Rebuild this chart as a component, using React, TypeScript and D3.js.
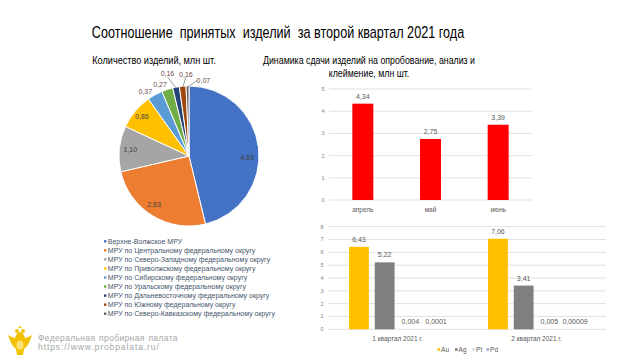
import React from "react";
import * as d3 from "d3";

// ---------- DATA ----------
const pieLabels = [
  "Верхне-Волжское МРУ",
  "МРУ по Центральному федеральному округу",
  "МРУ по Северо-Западному федеральному округу",
  "МРУ по Приволжскому федеральному округу",
  "МРУ по Сибирскому федеральному округу",
  "МРУ по Уральскому федеральному округу",
  "МРУ по Дальневосточному федеральному округу",
  "МРУ по Южному федеральному округу",
  "МРУ по Северо-Кавказскому федеральному округу",
];
const pieValues = [4.83, 2.63, 1.1, 0.86, 0.37, 0.27, 0.16, 0.16, 0.07];
const pieValueText = ["4,83", "2,63", "1,10", "0,86", "0,37", "0,27", "0,16", "0,16", "0,07"];

const months = ["апрель", "май", "июнь"];
const monthValues = [4.34, 2.75, 3.39];
const monthValueText = ["4,34", "2,75", "3,39"];
const monthTicks = [0, 1, 2, 3, 4, 5];

const quarters = ["1 квартал 2021 г.", "2 квартал 2021 г."];
const metals = ["Au", "Ag", "Pt", "Pd"];
const metalValues = [
  [6.43, 5.22, 0.004, 0.0001],
  [7.06, 3.41, 0.005, 0.00009],
];
const metalValueText = [
  ["6,43", "5,22", "0,004", "0,0001"],
  ["7,06", "3,41", "0,005", "0,00009"],
];
const metalTicks = [0, 1, 2, 3, 4, 5, 6, 7, 8];

// ---------- STYLE ----------
const pieColors = ["#4472C4", "#ED7D31", "#A5A5A5", "#FFC000", "#5B9BD5", "#70AD47", "#264478", "#9E480E", "#636363"];
const metalColors = ["#FFC000", "#7F7F7F", "#D9D9D9", "#8FAADC"];
const FONT = "'Liberation Sans', Arial, sans-serif";
const labelColor = "#595959";

export default function App() {
  // ---- Pie ----
  const cx = 189, cy = 156, R = 70;
  const pie = d3.pie<number>().sort(null).value((d) => d)(pieValues);
  const arc = d3.arc<d3.PieArcDatum<number>>().innerRadius(0).outerRadius(R);
  // label layout: [angle shift deg, radius] relative to slice mid-angle
  const labelLayout: [number, number][] = [
    [8, 58], [4, 60], [0, 59], [0, 61], [-5, 78], [-4, 77], [-4, 85], [3, 82], [12, 77],
  ];
  const leader = [false, false, false, false, false, false, true, true, true];

  const polar = (angRad: number, r: number) => [cx + r * Math.sin(angRad), cy - r * Math.cos(angRad)];

  // ---- Top bar chart ----
  const x1 = d3.scaleBand<string>().domain(months).range([329, 532]).paddingInner(0.69).paddingOuter(0.345);
  const y1 = d3.scaleLinear().domain([0, 5]).range([200, 89]);

  // ---- Bottom bar chart ----
  const x2 = d3.scaleBand<string>().domain(quarters).range([328, 606]).padding(0);
  const x2i = d3.scaleBand<string>().domain(metals).range([0, x2.bandwidth()]).paddingInner(0.23).paddingOuter(0.82);
  const y2 = d3.scaleLinear().domain([0, 8]).range([329.3, 226.7]);

  return (
    <svg width={640} height={360} style={{ position: "absolute", left: 0, top: 0, background: "#fff" }} fontFamily={FONT}>
      <rect width={640} height={360} fill="#fff" />
      {/* Title */}
      <text transform="translate(278,37.5) scale(0.79,1)" x={0} y={0} textAnchor="middle" fontSize={16} fill="#000" style={{ whiteSpace: "pre" }}>
        Соотношение  принятых  изделий  за второй квартал 2021 года
      </text>
      <text transform="translate(154,64) scale(0.87,1)" textAnchor="middle" fontSize={10.5} fill="#000">Количество изделий, млн шт.</text>
      <text transform="translate(369,64) scale(0.84,1)" textAnchor="middle" fontSize={10.5} fill="#000">Динамика сдачи изделий на опробование, анализ и</text>
      <text transform="translate(369,77) scale(0.84,1)" textAnchor="middle" fontSize={10.5} fill="#000">клеймение, млн шт.</text>

      {/* Pie */}
      <g transform={`translate(${cx},${cy})`}>
        {pie.map((p, i) => (
          <path key={i} d={arc(p) || ""} fill={pieColors[i]} stroke="#fff" strokeWidth={1} />
        ))}
      </g>
      {pie.map((p, i) => {
        const mid = (p.startAngle + p.endAngle) / 2;
        const [sh, r] = labelLayout[i];
        const [lx, ly] = polar(mid + (sh * Math.PI) / 180, r);
        const [ex, ey] = polar(mid, R - 1);
        return (
          <g key={i}>
            {leader[i] && (
              <line x1={i === 8 ? lx - 6 : lx} y1={i === 8 ? ly : ly + 3} x2={ex} y2={ey} stroke="#595959" strokeWidth={0.6} />
            )}
            <text x={lx} y={ly} dy="0.35em" textAnchor="middle" fontSize={7} fill={i < 4 ? "#404040" : "#6b4a4a"}>
              {pieValueText[i]}
            </text>
          </g>
        );
      })}

      {/* Pie legend */}
      {pieLabels.map((l, i) => (
        <g key={i} transform={`translate(104, ${241.3 + i * 9.05})`}>
          <rect x={0} y={-1.2} width={2.4} height={2.4} fill={pieColors[i]} />
          <text x={3.8} y={0} dy="0.35em" fontSize={7} fill="#44546A">{l}</text>
        </g>
      ))}

      {/* Top bar chart */}
      {monthTicks.map((t) => (
        <g key={t}>
          <line x1={329} x2={532} y1={y1(t)} y2={y1(t)} stroke="#D9D9D9" strokeWidth={0.8} />
          <text x={323} y={y1(t)} dy="0.35em" textAnchor="middle" fontSize={5.5} fill="#808080">{t}</text>
        </g>
      ))}
      {months.map((m, i) => (
        <g key={m}>
          <rect x={x1(m)!} y={y1(monthValues[i])} width={x1.bandwidth()} height={y1(0) - y1(monthValues[i])} fill="#FF0000" />
          <text x={x1(m)! + x1.bandwidth() / 2} y={y1(monthValues[i]) - 5} textAnchor="middle" fontSize={7} fill={labelColor}>
            {monthValueText[i]}
          </text>
          <text x={x1(m)! + x1.bandwidth() / 2} y={212} textAnchor="middle" fontSize={6.5} fill={labelColor}>{m}</text>
        </g>
      ))}

      {/* Bottom bar chart */}
      {metalTicks.map((t) => (
        <g key={t}>
          <line x1={328} x2={606} y1={y2(t)} y2={y2(t)} stroke="#D9D9D9" strokeWidth={0.8} />
          <text x={322} y={y2(t)} dy="0.35em" textAnchor="middle" fontSize={5.5} fill="#808080">{t}</text>
        </g>
      ))}
      {quarters.map((q, qi) => (
        <g key={q} transform={`translate(${x2(q)},0)`}>
          {metals.map((m, mi) => {
            const v = metalValues[qi][mi];
            const bx = x2i(m)!;
            return (
              <g key={m}>
                <rect x={bx} y={y2(v)} width={x2i.bandwidth()} height={y2(0) - y2(v)} fill={metalColors[mi]} />
                <text x={bx + x2i.bandwidth() / 2} y={y2(v) - 5} textAnchor="middle" fontSize={7} fill={labelColor}>
                  {metalValueText[qi][mi]}
                </text>
              </g>
            );
          })}
          <text x={x2.bandwidth() / 2} y={340.5} textAnchor="middle" fontSize={6.5} fill={labelColor}>{q}</text>
        </g>
      ))}
      {metals.map((m, i) => {
        const lx = [437.5, 455, 472.5, 486.5][i];
        return (
          <g key={m} transform={`translate(${lx},349.5)`}>
            <rect x={0} y={-1.3} width={2.6} height={2.6} fill={metalColors[i]} />
            <text x={3.6} y={0} dy="0.35em" fontSize={6.5} fill={labelColor}>{m}</text>
          </g>
        );
      })}

      {/* Footer logo (stylised eagle) */}
      <g transform="translate(20,343)">
        <path d="M-12,-8 C-10,-2 -8,3 -4,6 L-3,12 L3,12 L4,6 C8,3 10,-2 12,-8 C9,-6 7,-6 5,-5 C4,-9 2,-11 0,-11 C-2,-11 -4,-9 -5,-5 C-7,-6 -9,-6 -12,-8 Z" fill="#F2C200" />
        <ellipse cx={0} cy={2} rx={3.5} ry={4.5} fill="#FBE27A" />
        <circle cx={-3} cy={-12} r={2} fill="#F2C200" />
        <circle cx={3} cy={-12} r={2} fill="#F2C200" />
        <path d="M-2,-15 L0,-17 L2,-15 Z" fill="#F2C200" />
      </g>
      <text x={38} y={340.5} fontSize={8.5} fill="#A6A6A6" letterSpacing={0.35} wordSpacing={1}>Федеральная пробирная палата</text>
      <text x={38} y={350} fontSize={8.5} fill="#A6A6A6" letterSpacing={0.9}>https://www.probpalata.ru/</text>
    </svg>
  );
}
